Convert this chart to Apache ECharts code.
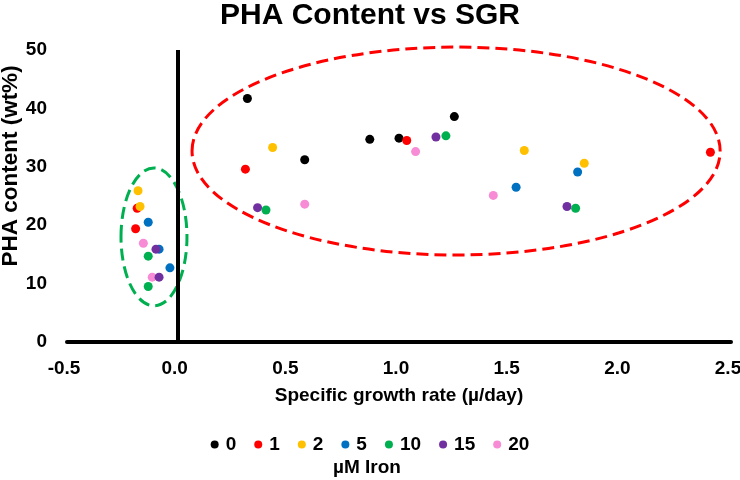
<!DOCTYPE html>
<html><head><meta charset="utf-8">
<script src="https://cdn.jsdelivr.net/npm/echarts@6/dist/echarts.min.js"></script>
<style>html,body{margin:0;padding:0;background:#fff}#c{width:740px;height:480px}</style>
</head><body><div id="c"></div>
<script>
// Iron levels (µM) – legend order
const ironLevels = ['0', '1', '2', '5', '10', '15', '20'];
// SGR (x) and PHA content (y) per iron level
const sgr0  = [0.315, 0.574, 0.868, 1.0, 1.25];
const pha0  = [41.7, 31.2, 34.7, 34.9, 38.6];
const sgr1  = [-0.183, -0.19, 0.306, 1.035, 2.407];
const pha1  = [22.9, 19.4, 29.6, 34.5, 32.5];
const sgr2  = [-0.179, -0.170, 0.429, 1.566, 1.837];
const pha2  = [25.9, 23.2, 33.3, 32.8, 30.6];
const sgr5  = [-0.133, -0.035, -0.084, 1.529, 1.807];
const pha5  = [20.5, 12.7, 15.9, 26.5, 29.1];
const sgr10 = [-0.133, -0.133, 0.399, 1.212, 1.798];
const pha10 = [14.7, 9.5, 22.6, 35.3, 22.9];
const sgr15 = [-0.098, -0.084, 0.361, 1.167, 1.759];
const pha15 = [15.9, 11.1, 23.0, 35.1, 23.2];
const sgr20 = [-0.155, -0.115, 0.574, 1.075, 1.426];
const pha20 = [16.9, 11.1, 23.6, 32.6, 25.1];
// Annotation ellipses (data units): [red group, green group]
const ellipseCx = [1.258, -0.107];
const ellipseCy = [32.7, 18.0];
const ellipseRx = [1.193, 0.149];
const ellipseRy = [17.8, 11.8];

const colors = {'0':'#000000','1':'#FF0000','2':'#FFC000','5':'#0070C0','10':'#00B050','15':'#7030A0','20':'#F78BD5'};
const ellipseColors = ['#FF0000', '#00B050'];
const FONT = "'Liberation Sans', Arial, sans-serif";

const xs = {'0':sgr0,'1':sgr1,'2':sgr2,'5':sgr5,'10':sgr10,'15':sgr15,'20':sgr20};
const ys = {'0':pha0,'1':pha1,'2':pha2,'5':pha5,'10':pha10,'15':pha15,'20':pha20};
const drawOrder = ['0','1','2','5','20','15','10'];

const series = drawOrder.map(function (k, i) {
  const s = {
    name: k, type: 'scatter', symbol: 'circle', symbolSize: 9,
    itemStyle: {color: colors[k], opacity: 1},
    emphasis: {disabled: true},
    data: xs[k].map(function (x, j) { return [x, ys[k][j]]; })
  };
  if (i === 0) {
    s.markLine = {
      silent: true, symbol: ['none', 'none'], label: {show: false},
      lineStyle: {color: '#000', width: 4, type: 'solid'},
      emphasis: {disabled: true},
      data: [{xAxis: 0}]
    };
  }
  return s;
});

const chart = echarts.init(document.getElementById('c'));
chart.setOption({
  animation: false,
  backgroundColor: '#fff',
  title: {
    text: 'PHA Content vs SGR', left: 'center', top: 1, padding: 0,
    textStyle: {fontFamily: FONT, fontWeight: 'bold', fontSize: 30, color: '#000'}
  },
  legend: {
    data: ironLevels, top: 435, left: 'center', padding: 0,
    icon: 'circle', itemWidth: 12, itemHeight: 8, itemGap: 18,
    selectedMode: false,
    textStyle: {fontFamily: FONT, fontWeight: 'bold', fontSize: 19, color: '#000'}
  },
  grid: {left: 67, right: 9, top: 50, bottom: 138, containLabel: false, outerBoundsMode: 'none'},
  xAxis: {
    type: 'value', min: -0.5, max: 2.5, interval: 0.5,
    name: 'Specific growth rate (µ/day)', nameLocation: 'middle', nameGap: 44,
    nameTextStyle: {fontFamily: FONT, fontWeight: 'bold', fontSize: 19, color: '#000'},
    axisLine: {onZero: false, lineStyle: {color: '#000', width: 4}},
    axisTick: {show: false}, splitLine: {show: false},
    axisLabel: {margin: 17, padding: [0, 6, 0, 0], fontFamily: FONT, fontWeight: 'bold', fontSize: 19, color: '#000',
      formatter: function (v) { return v.toFixed(1); }}
  },
  yAxis: {
    type: 'value', min: 0, max: 50, interval: 10,
    axisLine: {show: false}, axisTick: {show: false}, splitLine: {show: false},
    axisLabel: {margin: 20, fontFamily: FONT, fontWeight: 'bold', fontSize: 19, color: '#000'}
  },
  series: series
});

function drawAnnotations() {
  const els = [];
  for (let i = 0; i < ellipseCx.length; i++) {
    const c = chart.convertToPixel({gridIndex: 0}, [ellipseCx[i], ellipseCy[i]]);
    const e = chart.convertToPixel({gridIndex: 0}, [ellipseCx[i] + ellipseRx[i], ellipseCy[i] + ellipseRy[i]]);
    els.push({
      type: 'ellipse', silent: true, z: 1,
      shape: {cx: c[0], cy: c[1], rx: Math.abs(e[0] - c[0]), ry: Math.abs(e[1] - c[1])},
      style: {fill: null, stroke: ellipseColors[i], lineWidth: 3, lineDash: [12, 6]}
    });
  }
  els.push({
    type: 'text', x: 11, y: 166, rotation: Math.PI / 2, silent: true,
    style: {text: 'PHA content (wt%)', font: "bold 22.5px " + FONT, fill: '#000', align: 'center', verticalAlign: 'middle'}
  });
  els.push({
    type: 'text', x: 367, y: 468, silent: true,
    style: {text: 'µM Iron', font: "bold 19px " + FONT, fill: '#000', align: 'center', verticalAlign: 'middle'}
  });
  chart.setOption({graphic: els});
}
drawAnnotations();
</script>
</body></html>
